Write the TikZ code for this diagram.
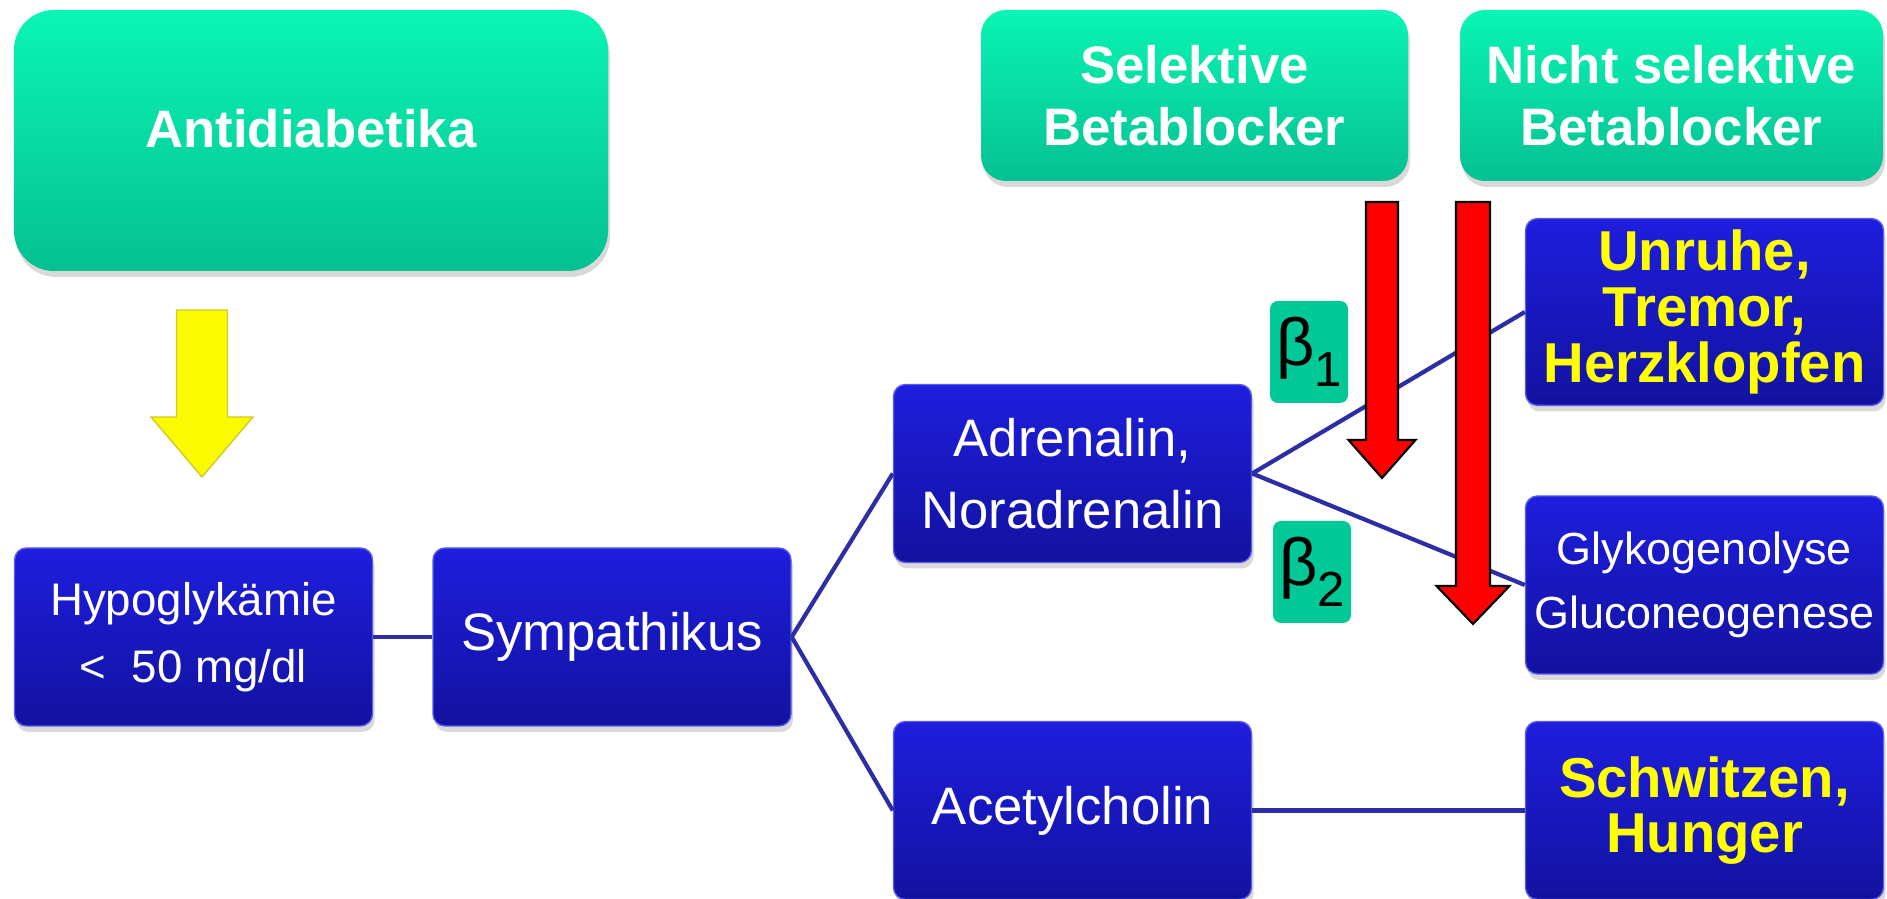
\documentclass[tikz,border=0pt]{standalone}
\usepackage{fontspec}
\setmainfont{Liberation Sans}
\usepackage{tikz}
\usetikzlibrary{shadows}

\definecolor{tealtop}{RGB}{10,245,180}
\definecolor{tealbot}{RGB}{5,192,145}
\definecolor{bluetop}{RGB}{30,30,222}
\definecolor{bluebot}{RGB}{18,18,160}
\definecolor{bluerim}{RGB}{90,90,235}
\definecolor{linkblue}{RGB}{45,45,165}
\definecolor{betagreen}{RGB}{0,200,150}
\definecolor{symyellow}{RGB}{255,255,0}
\definecolor{arrowyellow}{RGB}{250,250,0}

\tikzset{
    drugbox/.style = {rectangle, rounded corners = 0.25cm, top color = tealtop, bottom color = tealbot, text = white, align = center, font = \bfseries\fontsize{15}{17.5}\selectfont, drop shadow = {opacity = 0.3, shadow xshift = 0.02cm, shadow yshift = -0.06cm}},
    effbox/.style = {rectangle, rounded corners = 0.12cm, top color = bluetop, bottom color = bluebot, draw = bluerim, line width = 0.4pt, text = white, align = center, inner xsep = 1pt, minimum width = 3.58cm, minimum height = 1.78cm, font = \fontsize{15}{20.5}\selectfont, drop shadow = {opacity = 0.3, shadow xshift = 0.02cm, shadow yshift = -0.06cm}},
    symtext/.style = {text = symyellow, font = \bfseries\fontsize{16}{15.8}\selectfont},
    betabox/.style = {rectangle, rounded corners = 0.08cm, fill = betagreen, minimum width = 0.78cm, minimum height = 1.02cm, inner sep = 0pt, font = \fontsize{19}{19}\selectfont},
    link/.style = {draw = linkblue, line width = 1.2pt},
    blockarrow/.style = {fill = red, draw = black, line width = 0.6pt}
}

\begin{document}
\begin{tikzpicture}

    \useasboundingbox (0, 0) rectangle (18.87, -8.99);

    % drug classes
    \node[drugbox, rounded corners = 0.4cm, minimum width = 5.94cm, minimum height = 2.61cm] (anti) at (3.11, -1.405) {\raisebox{7pt}{Antidiabetika}};
    \node[drugbox, minimum width = 4.27cm, minimum height = 1.71cm] (sel) at (11.945, -0.955) {Selektive\\Betablocker};
    \node[drugbox, minimum width = 4.23cm, minimum height = 1.71cm] (nsel) at (16.715, -0.955) {Nicht selektive\\Betablocker};

    % chain
    \node[effbox, font = \fontsize{13}{19}\selectfont] (hypo) at (1.935, -6.37) {Hypoglykämie\\<~~50 mg/dl};
    \node[effbox] (sym) at (6.12, -6.37) {Sympathikus};
    \node[effbox] (adr) at (10.725, -4.735) {Adrenalin,\\Noradrenalin};
    \node[effbox] (ace) at (10.725, -8.105) {Acetylcholin};

    % effects
    \node[effbox, symtext] (unr) at (17.045, -3.12) {Unruhe,\\Tremor,\\Herzklopfen};
    \node[effbox, font = \fontsize{12.8}{18}\selectfont] (gly) at (17.045, -5.85) {Glykogenolyse\\Gluconeogenese};
    \node[effbox, symtext] (sch) at (17.045, -8.105) {Schwitzen,\\Hunger};

    % receptors
    \node[betabox] (b1) at (13.09, -3.52) {β\raisebox{-6pt}{\fontsize{14}{14}\selectfont 1}};
    \node[betabox] (b2) at (13.12, -5.72) {β\raisebox{-6pt}{\fontsize{14}{14}\selectfont 2}};

    \draw [link] (hypo.east) -- (sym.west);
    \draw [link] (sym.east) -- (adr.west);
    \draw [link] (sym.east) -- (ace.west);
    \draw [link] (adr.east) -- (unr.west);
    \draw [link] (adr.east) -- (gly.west);
    \draw [link] (ace.east) -- (sch.west);

    % block arrows
    \draw [fill = arrowyellow, draw = yellow!80!black, line width = 0.4pt] (1.765, -3.10) -- (2.275, -3.10) -- (2.275, -4.17) -- (2.53, -4.17) -- (2.02, -4.77) -- (1.51, -4.17) -- (1.765, -4.17) -- cycle;
    \draw [blockarrow] (13.66, -2.02) -- (13.98, -2.02) -- (13.98, -4.40) -- (14.155, -4.40) -- (13.82, -4.78) -- (13.485, -4.40) -- (13.66, -4.40) -- cycle;
    \draw [blockarrow] (14.56, -2.02) -- (14.90, -2.02) -- (14.90, -5.86) -- (15.095, -5.86) -- (14.73, -6.24) -- (14.365, -5.86) -- (14.56, -5.86) -- cycle;

\end{tikzpicture}
\end{document}
